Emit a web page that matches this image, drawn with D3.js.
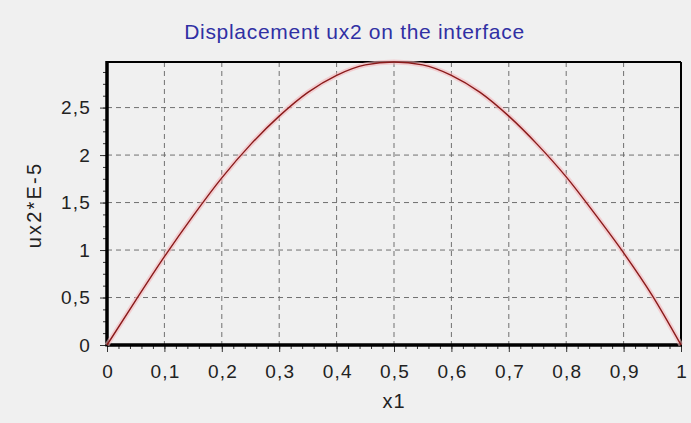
<!DOCTYPE html>
<html>
<head>
<meta charset="utf-8">
<script src="https://cdn.jsdelivr.net/npm/d3@7"></script>
<style>
  body { margin: 0; background: #f0f0f0; }
  svg { display: block; font-family: "Liberation Sans", Arial, sans-serif; }
</style>
</head>
<body>
<svg width="691" height="423"></svg>
<script>
// values
var x1Values = [0, 0.05, 0.1, 0.15, 0.2, 0.25, 0.3, 0.35, 0.4, 0.45, 0.5, 0.55, 0.6, 0.65, 0.7, 0.75, 0.8, 0.85, 0.9, 0.95, 1];
var ux2Values = [0, 0.47, 0.93, 1.36, 1.76, 2.11, 2.41, 2.66, 2.84, 2.95, 2.98, 2.95, 2.84, 2.66, 2.41, 2.11, 1.77, 1.38, 0.97, 0.52, 0];
var xTicks = [0, 0.1, 0.2, 0.3, 0.4, 0.5, 0.6, 0.7, 0.8, 0.9, 1];
var yTicks = [0, 0.5, 1, 1.5, 2, 2.5];
var titleText = "Displacement ux2 on the interface";
var xLabel = "x1";
var yLabel = "ux2*E-5";

var svg = d3.select("svg");
var pLeft = 107, pRight = 681, pTop = 62, pBottom = 345;

xScale = d3.scaleLinear().domain([0, 1]).range([pLeft, pRight]);
yScale = d3.scaleLinear().domain([0, 2.98]).range([pBottom, pTop]);

function comma(d) { return String(d).replace(".", ","); }

// grid
svg.append("g").selectAll("line").data(xTicks.slice(1, -1)).enter().append("line")
    .attr("x1", function (d) { return xScale(d) }).attr("x2", function (d) { return xScale(d) })
    .attr("y1", pTop).attr("y2", pBottom)
    .attr("stroke", "#707070").attr("stroke-dasharray", "5,4");
svg.append("g").selectAll("line").data(yTicks.slice(1)).enter().append("line")
    .attr("y1", function (d) { return yScale(d) }).attr("y2", function (d) { return yScale(d) })
    .attr("x1", pLeft).attr("x2", pRight)
    .attr("stroke", "#707070").attr("stroke-dasharray", "5,4");

// minor ticks
xMinor = d3.axisBottom(xScale).ticks(40).tickSize(4).tickFormat("");
svg.append("g").attr("transform", "translate(0," + pBottom + ")").call(xMinor);
yMinor = d3.axisLeft(yScale).tickValues(d3.range(0, 2.95, 0.125)).tickSize(4).tickFormat("");
svg.append("g").attr("transform", "translate(" + pLeft + ",0)").call(yMinor);

// major axes
xAxis = d3.axisBottom(xScale).tickValues(xTicks).tickSize(7).tickPadding(13).tickFormat(comma);
svg.append("g").attr("id", "xAxisG").attr("transform", "translate(0," + pBottom + ")").call(xAxis);
yAxis = d3.axisLeft(yScale).tickValues(yTicks).tickSize(7).tickPadding(9).tickFormat(comma);
svg.append("g").attr("id", "yAxisG").attr("transform", "translate(" + pLeft + ",0)").call(yAxis);
svg.selectAll(".domain").remove();
svg.selectAll(".tick line").attr("stroke", "#333");
svg.selectAll(".tick text").attr("font-size", 19).attr("letter-spacing", 1.2).attr("fill", "#222")
    .attr("font-family", "Liberation Sans, Arial, sans-serif");
svg.selectAll("#xAxisG .tick text").attr("dx", 0.6);

// frame
svg.append("line").attr("x1", pLeft).attr("x2", pRight).attr("y1", pTop).attr("y2", pTop).attr("stroke", "#000").attr("stroke-width", 2);
svg.append("line").attr("x1", pRight).attr("x2", pRight).attr("y1", pTop).attr("y2", pBottom).attr("stroke", "#000").attr("stroke-width", 2);
svg.append("line").attr("x1", pLeft).attr("x2", pLeft).attr("y1", pTop - 1).attr("y2", pBottom + 1.5).attr("stroke", "#000").attr("stroke-width", 3.5);
svg.append("line").attr("x1", pLeft).attr("x2", pRight + 1).attr("y1", pBottom).attr("y2", pBottom).attr("stroke", "#000").attr("stroke-width", 3.5);

// curve
var pts = x1Values.map(function (d, i) { return [d, ux2Values[i]]; });
var line = d3.line().x(function (d) { return xScale(d[0]) }).y(function (d) { return yScale(d[1]) }).curve(d3.curveMonotoneX);
svg.append("path").attr("d", line(pts)).attr("fill", "none").attr("stroke", "#f4b8bc").attr("stroke-width", 5).style("opacity", 0.6);
svg.append("path").attr("d", line(pts)).attr("fill", "none").attr("stroke", "#8a1a1a").attr("stroke-width", 1.4);

// texts
svg.append("text").attr("x", 354.5).attr("y", 39).attr("text-anchor", "middle")
    .attr("font-size", 21).attr("letter-spacing", 0.7).attr("fill", "#3030a4").text(titleText);
svg.append("text").attr("x", (pLeft + pRight) / 2).attr("y", 408).attr("text-anchor", "middle")
    .attr("font-size", 20).attr("letter-spacing", 1).attr("fill", "#222").text(xLabel);
svg.append("text").attr("transform", "translate(41,205) rotate(-90)").attr("text-anchor", "middle")
    .attr("font-size", 20).attr("letter-spacing", 2.2).attr("fill", "#222").text(yLabel);
</script>
</body>
</html>
